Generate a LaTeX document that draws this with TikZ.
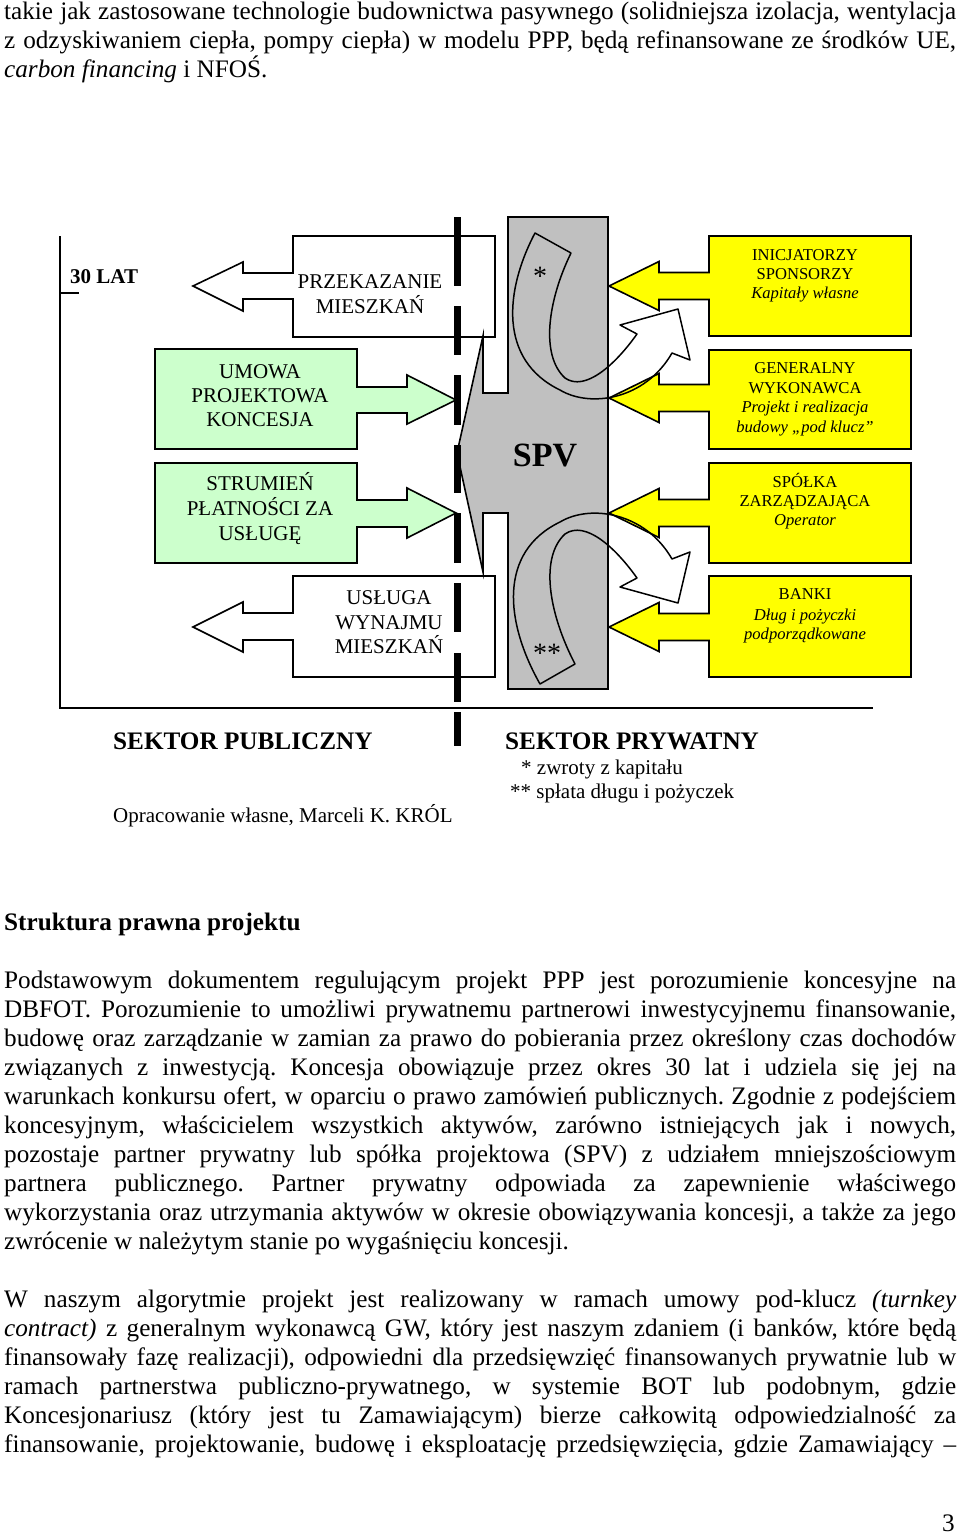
\documentclass[tikz,border=0pt]{standalone}
\usepackage{fontspec}
\setmainfont{Liberation Serif}
\frenchspacing
\definecolor{lgreen}{HTML}{CCFFCC}
\definecolor{yel}{HTML}{FFFF00}
\definecolor{spvgray}{HTML}{C0C0C0}
\newcommand\fdiag{\fontsize{21}{25}\selectfont}
\newcommand\fyel{\fontsize{16.6}{20}\selectfont}
\newcommand\fbody{\fontsize{25.2}{29}\selectfont}
\newcommand\fspv{\fontsize{34}{40}\selectfont\bfseries}
\newcommand\fstar{\fontsize{28}{32}\selectfont}
\begin{document}
\begin{tikzpicture}[x=1pt,y=-1pt,
  box/.style={draw=black, line width=1.6pt, line join=miter},
  whitearrow/.style={box, fill=white},
  greenarrow/.style={box, fill=lgreen},
  yellowarrow/.style={box, fill=yel},
  spvshape/.style={box, fill=spvgray},
  band/.style={draw=black, line width=1.5pt, line join=round},
  divider/.style={line width=7pt, black},
  frameline/.style={line width=1.6pt, black},
  dtxt/.style={anchor=base, inner sep=0pt, font=\fdiag},
  ytxt/.style={anchor=base, inner sep=0pt, font=\fyel},
  jline/.style={anchor=base west, inner sep=0pt, font=\fbody}]
\useasboundingbox (0,0) rectangle (960,1537);
\fill[white] (0,0) rectangle (960,1537);

% frame
\draw[frameline] (60,236) -- (60,708) -- (873,708);
\draw[frameline] (60,293) -- (79,293);

% public sector arrows
\draw[whitearrow] (495,236) -- (293,236) -- (293,273) -- (243,273) -- (243,262) -- (193,286) -- (243,311) -- (243,299) -- (293,299) -- (293,337) -- (495,337) -- cycle;
\draw[whitearrow] (495,576) -- (293,576) -- (293,613) -- (243,613) -- (243,602) -- (193,627) -- (243,652) -- (243,640) -- (293,640) -- (293,677) -- (495,677) -- cycle;
\draw[greenarrow] (155,349) -- (357,349) -- (357,387) -- (407,387) -- (407,375) -- (456,400) -- (407,424) -- (407,413) -- (357,413) -- (357,449) -- (155,449) -- cycle;
\draw[greenarrow] (155,463) -- (357,463) -- (357,500) -- (407,500) -- (407,488) -- (456,513) -- (407,538) -- (407,527) -- (357,527) -- (357,563) -- (155,563) -- cycle;

% SPV
\draw[spvshape] (508,217) -- (608,217) -- (608,689) -- (508,689) -- (508,513) -- (483,513) -- (483,572) -- (457,453) -- (483,336) -- (483,393) -- (508,393) -- cycle;

% private sector arrows
\foreach \ya/\yb/\yt in {236/336/286, 350/449/398, 463/563/513, 576/677/627}{
  \draw[yellowarrow] (709,\ya) -- (911,\ya) -- (911,\yb) -- (709,\yb) -- (709,\yt+13.5) -- (659,\yt+13.5) -- (659,\yt+24.5) -- (609,\yt) -- (659,\yt-24.5) -- (659,\yt-13.5) -- (709,\yt-13.5) -- cycle;
}

% curved bands
\draw[band] (535,233) -- (571,253) .. controls (548,300) and (540,355) .. (565,378) .. controls (585,392) and (615,365) .. (637,334) -- (620,325) -- (678,309) -- (690,360) -- (672,353) .. controls (645,400) and (590,408) .. (560,390) .. controls (498,360) and (505,290) .. (535,233) -- cycle;
\draw[band] (540,684) -- (575,664) .. controls (548,612) and (540,557) .. (565,534) .. controls (585,520) and (615,547) .. (637,578) -- (620,587) -- (678,603) -- (690,552) -- (672,559) .. controls (645,512) and (590,504) .. (560,522) .. controls (498,552) and (505,622) .. (540,684) -- cycle;

% divider
\foreach \a/\b in {217/286, 306/355, 375/425, 445/493, 513/563, 583/632, 653/702, 712/746}{
  \draw[divider] (457,\a) -- (457,\b);
}

% diagram texts
\node[dtxt, anchor=base west, font=\fdiag\bfseries] (lat) at (70,283) {30 LAT};
\node[dtxt] (prz1) at (370,288) {PRZEKAZANIE};
\node[dtxt] (prz2) at (370,313) {MIESZKAŃ};
\node[dtxt] (umo1) at (260,378) {UMOWA};
\node[dtxt] (umo2) at (260,402) {PROJEKTOWA};
\node[dtxt] (umo3) at (260,426) {KONCESJA};
\node[dtxt] (str1) at (260,490) {STRUMIEŃ};
\node[dtxt] (str2) at (260,515) {PŁATNOŚCI ZA};
\node[dtxt] (str3) at (260,540) {USŁUGĘ};
\node[dtxt] (usl1) at (389,604) {USŁUGA};
\node[dtxt] (usl2) at (389,629) {WYNAJMU};
\node[dtxt] (usl3) at (389,653) {MIESZKAŃ};
\node[anchor=base, inner sep=0pt, font=\fspv] (spv) at (545,466.5) {SPV};
\node[anchor=base, inner sep=0pt, font=\fstar] (st1) at (540,285) {*};
\node[anchor=base, inner sep=0pt, font=\fstar] (st2) at (547,662) {**};

\node[ytxt] (ini1) at (805,260) {INICJATORZY};
\node[ytxt] (ini2) at (805,279.5) {SPONSORZY};
\node[ytxt] (ini3) at (805,298.5) {\itshape Kapitały własne};
\node[ytxt] (gen1) at (805,373.5) {GENERALNY};
\node[ytxt] (gen2) at (805,393) {WYKONAWCA};
\node[ytxt] (gen3) at (805,412.5) {\itshape Projekt i realizacja};
\node[ytxt] (gen4) at (805,432) {\itshape budowy „pod klucz”};
\node[ytxt] (spo1) at (805,487) {SPÓŁKA};
\node[ytxt] (spo2) at (805,506.5) {ZARZĄDZAJĄCA};
\node[ytxt] (spo3) at (805,525.5) {\itshape Operator};
\node[ytxt] (ban1) at (805,599.5) {BANKI};
\node[ytxt] (ban2) at (805,620) {\itshape Dług i pożyczki};
\node[ytxt] (ban3) at (805,639.5) {\itshape podporządkowane};

\node[jline, font=\fbody\bfseries] (sekpub) at (113,749) {SEKTOR PUBLICZNY};
\node[jline, font=\fbody\bfseries] (sekpry) at (505,749) {SEKTOR PRYWATNY};
\node[jline, font=\fdiag] (note1) at (521,774) {* zwroty z kapitału};
\node[jline, font=\fdiag] (note2) at (510,798) {** spłata długu i pożyczek};
\node[jline, font=\fdiag] (src) at (113,822) {Opracowanie własne, Marceli K. KRÓL};

% page text
\node[jline] (t1) at (4,19.5) {\makebox[952pt][s]{takie jak zastosowane technologie budownictwa pasywnego (solidniejsza izolacja, wentylacja}};
\node[jline] (t2) at (4,48.5) {\makebox[952pt][s]{z odzyskiwaniem ciepła, pompy ciepła) w modelu PPP, będą refinansowane ze środków UE,}};
\node[jline] (t3) at (4,77.5) {\textit{carbon financing} i NFOŚ.};

\node[jline, font=\fbody\bfseries] (head) at (4,930) {Struktura prawna projektu};

\node[jline] (p1) at (4,988.5) {\makebox[952pt][s]{Podstawowym dokumentem regulującym projekt PPP jest porozumienie koncesyjne na}};
\node[jline] (p2) at (4,1017.5) {\makebox[952pt][s]{DBFOT. Porozumienie to umożliwi prywatnemu partnerowi inwestycyjnemu finansowanie,}};
\node[jline] (p3) at (4,1046.5) {\makebox[952pt][s]{budowę oraz zarządzanie w zamian za prawo do pobierania przez określony czas dochodów}};
\node[jline] (p4) at (4,1075.5) {\makebox[952pt][s]{związanych z inwestycją. Koncesja obowiązuje przez okres 30 lat i udziela się jej na}};
\node[jline] (p5) at (4,1104.5) {\makebox[952pt][s]{warunkach konkursu ofert, w oparciu o prawo zamówień publicznych. Zgodnie z podejściem}};
\node[jline] (p6) at (4,1133.5) {\makebox[952pt][s]{koncesyjnym, właścicielem wszystkich aktywów, zarówno istniejących jak i nowych,}};
\node[jline] (p7) at (4,1162.5) {\makebox[952pt][s]{pozostaje partner prywatny lub spółka projektowa (SPV) z udziałem mniejszościowym}};
\node[jline] (p8) at (4,1191.5) {\makebox[952pt][s]{partnera publicznego. Partner prywatny odpowiada za zapewnienie właściwego}};
\node[jline] (p9) at (4,1220.5) {\makebox[952pt][s]{wykorzystania oraz utrzymania aktywów w okresie obowiązywania koncesji, a także za jego}};
\node[jline] (p10) at (4,1249.5) {zwrócenie w należytym stanie po wygaśnięciu koncesji.};

\node[jline] (q1) at (4,1307.5) {\makebox[952pt][s]{W naszym algorytmie projekt jest realizowany w ramach umowy pod-klucz \textit{(turnkey}}};
\node[jline] (q2) at (4,1336.5) {\makebox[952pt][s]{\textit{contract)} z generalnym wykonawcą GW, który jest naszym zdaniem (i banków, które będą}};
\node[jline] (q3) at (4,1365.5) {\makebox[952pt][s]{finansowały fazę realizacji), odpowiedni dla przedsięwzięć finansowanych prywatnie lub w}};
\node[jline] (q4) at (4,1394.5) {\makebox[952pt][s]{ramach partnerstwa publiczno-prywatnego, w systemie BOT lub podobnym, gdzie}};
\node[jline] (q5) at (4,1423.5) {\makebox[952pt][s]{Koncesjonariusz (który jest tu Zamawiającym) bierze całkowitą odpowiedzialność za}};
\node[jline] (q6) at (4,1452.5) {\makebox[952pt][s]{finansowanie, projektowanie, budowę i eksploatację przedsięwzięcia, gdzie Zamawiający –}};

\node[anchor=base east, inner sep=0pt, font=\fbody] (pgnum) at (955,1531) {3};
\end{tikzpicture}
\end{document}
